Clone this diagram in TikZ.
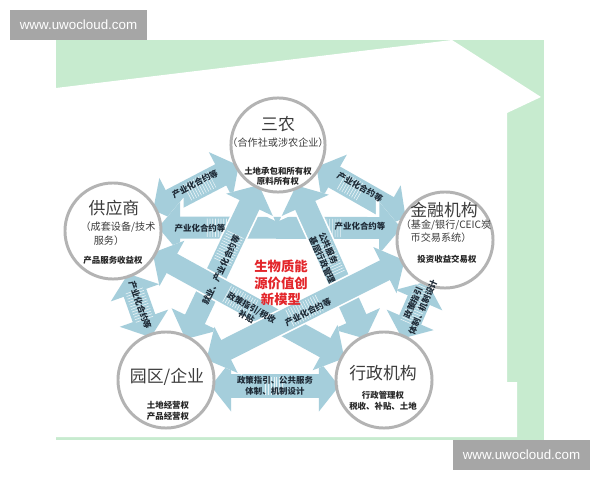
\documentclass[tikz,border=0pt]{standalone}
\usepackage{fontspec}
\setmainfont{Noto Sans CJK SC}
\newfontfamily\wmfont{Liberation Sans}
\usetikzlibrary{arrows.meta,calc}
\definecolor{bggreen}{HTML}{C7EBCF}
\definecolor{bandblue}{HTML}{A5CEDB}
\definecolor{ringgray}{HTML}{B3B3B3}
\definecolor{wmgray}{HTML}{A6A6A6}
\definecolor{txtdark}{HTML}{3C3C3C}
\definecolor{lbl}{HTML}{1E2A36}
\definecolor{cred}{HTML}{E3262B}
\pgfdeclarelayer{back}
\pgfdeclarelayer{arrows}
\pgfsetlayers{back,arrows,main}
\begin{document}
\begin{tikzpicture}[x=0.025cm,y=-0.025cm,
 ring/.style={circle, draw=ringgray, line width=2.1pt, fill=white, fill opacity=0.82, inner sep=0pt},
 oband/.style={draw=bandblue, line width=17pt, shorten <=-3pt, shorten >=-3pt,
   {Triangle[width=0pt 2.1, length=0pt 0.85]}-{Triangle[width=0pt 2.1, length=0pt 0.85]},
   preaction={draw=white, line width=19.5pt}},
 sband/.style={draw=bandblue, line width=15.6pt, shorten <=-3pt, shorten >=-3pt,
   {Triangle[width=0pt 2.3, length=0pt 1.0]}-{Triangle[width=0pt 2.3, length=0pt 1.0]},
   preaction={draw=white, line width=18pt}},
 stripes/.style={draw=white, draw opacity=0.75, line width=13pt, dash pattern=on 0.45pt off 1.5pt},
 ttl/.style={text=txtdark, font=\fontsize{12}{14}\selectfont, inner sep=0pt},
 sub/.style={text=txtdark, font=\fontsize{7.2}{9}\selectfont, inner sep=0pt},
 own/.style={text=black!85, font=\bfseries\fontsize{6}{7.5}\selectfont, inner sep=0pt, align=center},
 lab/.style={text=lbl, font=\bfseries\fontsize{6}{7.5}\selectfont, inner sep=0pt, align=center},
 wm/.style={text=white, font=\wmfont\fontsize{9.5}{11}\selectfont, inner sep=0pt},
]
\useasboundingbox (0,0) rectangle (600,480);

% background
\begin{pgfonlayer}{back}
\fill[bggreen] (56,40) rectangle (544,440);
\fill[white] (56,88) -- (452,40) -- (541,97) -- (507,113) -- (507,382) -- (517,382) -- (517,437) -- (56,437) -- cycle;
\fill[wmgray] (10,10) rectangle (147,40);
\fill[wmgray] (453,440) rectangle (590,470);
\end{pgfonlayer}
\node[wm] (wm1) at (78.5,25) {www.uwocloud.com};
\node[wm] (wm2) at (521.5,455) {www.uwocloud.com};

% circles
\node[ring, minimum size=66.9pt] (SN) at (278,145) {};
\node[ring, minimum size=68.3pt] (GYS) at (113,231) {};
\node[ring, minimum size=68.3pt] (JR) at (445,240) {};
\node[ring, minimum size=68.3pt] (YQ) at (166,380) {};
\node[ring, minimum size=68.3pt] (XZ) at (384,380) {};

% bands
\begin{pgfonlayer}{arrows}
\draw[oband] (GYS) -- (SN);
\draw[stripes] ($(GYS)!0.45!(SN)$) -- ($(GYS)!0.6!(SN)$);
\draw[oband] (SN) -- (JR);
\draw[stripes] ($(SN)!0.38!(JR)$) -- ($(SN)!0.5!(JR)$);
\draw[oband] (JR) -- (XZ);
\draw[stripes] ($(JR)!0.32!(XZ)$) -- ($(JR)!0.6!(XZ)$);
\draw[oband] (YQ.-7) -- (XZ.-173);
\draw[stripes] ($(YQ.-7)!0.42!(XZ.-173)$) -- ($(YQ.-7)!0.58!(XZ.-173)$);
\draw[oband] (GYS) -- (YQ);
\draw[stripes] ($(GYS)!0.4!(YQ)$) -- ($(GYS)!0.6!(YQ)$);
\draw[sband] (GYS.4) -- (JR.166);
\draw[stripes] ($(GYS.4)!0.19!(JR.166)$) -- ($(GYS.4)!0.28!(JR.166)$);
\draw[stripes] ($(GYS.4)!0.7!(JR.166)$) -- ($(GYS.4)!0.77!(JR.166)$);
\draw[sband] (SN) -- (YQ);
\draw[stripes] ($(SN)!0.38!(YQ)$) -- ($(SN)!0.5!(YQ)$);
\draw[sband] (SN) -- (XZ);
\draw[stripes] ($(SN)!0.42!(XZ)$) -- ($(SN)!0.55!(XZ)$);
\draw[sband] (GYS) -- (XZ);
\draw[stripes] ($(GYS)!0.42!(XZ)$) -- ($(GYS)!0.52!(XZ)$);
\draw[sband] (JR) -- (YQ);
\draw[stripes] ($(JR)!0.45!(YQ)$) -- ($(JR)!0.56!(YQ)$);
\end{pgfonlayer}

% circle texts
\node[ttl] (t1) at (278,124) {三农};
\node[sub] (s1) at (278,143) {（合作社或涉农企业）};
\node[own] (o1) at (278,176.5) {土地承包和所有权\\原料所有权};

\node[ttl] (t2) at (114,208) {供应商};
\node[sub] (s2a) at (118,227) {（成套设备/技术};
\node[sub] (s2b) at (109,241) {服务）};
\node[own] (o2) at (113,260) {产品服务收益权};

\node[ttl] (t3) at (444,210) {金融机构};
\node[sub] (s3a) at (446,225) {（基金/银行/CEIC炭};
\node[sub] (s3b) at (441,238) {币交易系统）};
\node[own] (o3) at (447,259) {投资收益交易权};

\node[ttl] (t4) at (167,377) {园区/企业};
\node[own] (o4) at (168,411) {土地经营权\\产品经营权};

\node[ttl] (t5) at (383,373) {行政机构};
\node[own] (o5) at (383,400.5) {行政管理权\\税收、补贴、土地};

% centre
\node[text=cred, font=\bfseries\fontsize{9.5}{11.7}\selectfont, align=center, inner sep=0pt] (ctr) at (281,283) {生物质能\\源价值创\\新模型};

% band labels
\node[lab, rotate=27.5] (l1) at (195,184) {产业化合约等};
\node[lab, rotate=-29.6] (l2) at (360,187) {产业化合约等};
\node[lab, rotate=66.5] (l3) at (418,305) {政策指引\\体制、机制设计};
\node[lab] (l4) at (275,386) {政策指引、公共服务\\体制、机制设计};
\node[lab, rotate=-70.4] (l5) at (140,305) {产业化合约等};
\node[lab] (l6) at (200,228) {产业化合约等};
\node[lab] (l7) at (360,226) {产业化合约等};
\node[lab, rotate=64.5] (l8) at (221,270) {就业、产业化合约等};
\node[lab, rotate=-65.7, align=left] (l9) at (327,258) {公共服务\\基层行政管理};
\node[lab, rotate=-28.8] (l10) at (249,312) {政策指引/税收\\补贴};
\node[lab, rotate=26.6] (l11) at (308,312) {产业化合约等};
\end{tikzpicture}
\end{document}
